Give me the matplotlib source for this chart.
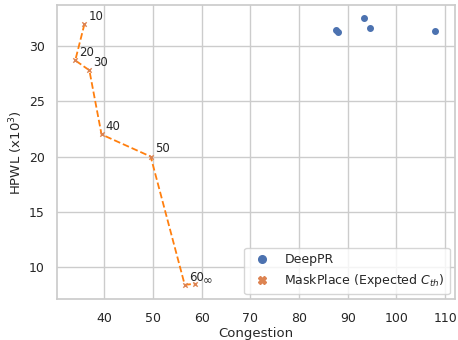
import matplotlib
matplotlib.use("Agg")
import matplotlib.pyplot as plt
from matplotlib.lines import Line2D
import seaborn as sns

sns.set_theme(style="whitegrid")
plt.rcParams['font.family'] = ['DejaVu Sans']

# DeepPR results
deeppr_cong = [87.6, 88.1, 93.4, 94.6, 108.0]
deeppr_hpwl = [31.45, 31.25, 32.5, 31.65, 31.4]

# MaskPlace with different expected C_th
mp_labels = ["10", "20", "30", "40", "50", "60", r"$\infty$"]
mp_cong = [35.9, 34.0, 36.9, 39.4, 49.5, 56.5, 58.7]
mp_hpwl = [32.0, 28.7, 27.8, 22.0, 20.0, 8.4, 8.5]
label_offsets = [(3, 3), (3, 3), (3, 3), (3, 3), (3, 3), (3, 3), (5, 0.5)]

fig, ax = plt.subplots(figsize=(4.58, 3.4), dpi=100)
fig.subplots_adjust(left=0.125, right=0.993, top=0.985, bottom=0.12)

ax.scatter(deeppr_cong, deeppr_hpwl, marker="o", s=16, color="#4c72b0",
           zorder=3)
ax.plot(mp_cong, mp_hpwl, "--", color="#ff7f0e", lw=1.3, zorder=2)
ax.scatter(mp_cong, mp_hpwl, marker="x", s=10, lw=1, color="#dd8452",
           zorder=3)

for lab, x, y, off in zip(mp_labels, mp_cong, mp_hpwl, label_offsets):
    ax.annotate(lab, (x, y), xytext=off, textcoords="offset points",
                fontsize=8.5)

ax.set_xlabel("Congestion", fontsize=9.5, labelpad=2)
ax.set_ylabel("HPWL (x10$^3$)", fontsize=9.5, labelpad=3)
ax.tick_params(labelsize=9, pad=3)
ax.set_xticks(range(40, 111, 10))
ax.set_yticks(range(10, 31, 5))
ax.set_xlim(30.3, 112.0)
ax.set_ylim(7.1, 33.7)

handles = [
    Line2D([], [], ls="", marker="o", ms=5.5, color="#4c72b0"),
    Line2D([], [], ls="", marker="X", ms=5.5, color="#dd8452"),
]
ax.legend(handles, ["DeepPR", "MaskPlace (Expected $C_{th}$)"],
          loc="lower right", fontsize=9, borderaxespad=0.4)

fig.savefig("out.png")
